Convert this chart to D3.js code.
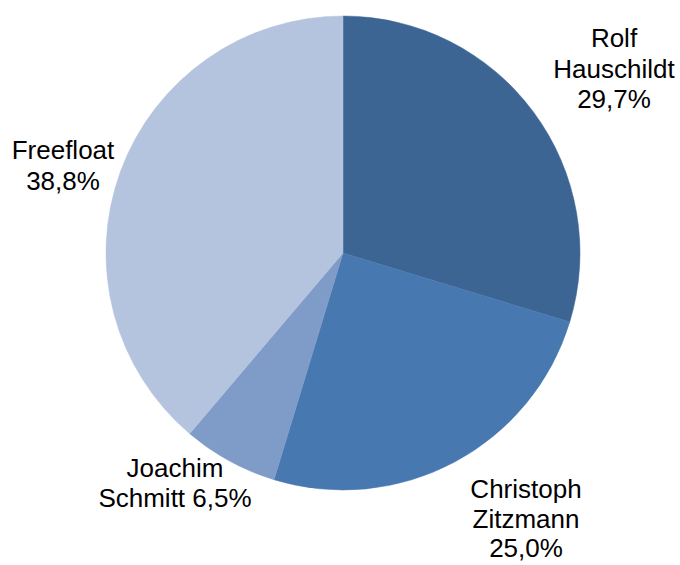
<!DOCTYPE html>
<html><head><meta charset="utf-8">
<script src="https://cdn.jsdelivr.net/npm/d3@7"></script>
<style>body{margin:0;background:#fff}svg{display:block}</style>
</head><body>
<svg id="c" width="680" height="565"></svg>
<script>
const names = ["Rolf Hauschildt", "Christoph Zitzmann", "Joachim Schmitt", "Freefloat"];
const values = [29.7, 25.0, 6.5, 38.8];
const labelLines = [["Rolf", "Hauschildt", "29,7%"], ["Christoph", "Zitzmann", "25,0%"], ["Joachim", "Schmitt 6,5%"], ["Freefloat", "38,8%"]];
const colors = ["#3D6594", "#4878B0", "#7F9CC8", "#B4C3DE"];
const labelPos = [[614, 40], [526, 491], [175, 470], [63, 152]];
const lineGap = [30.5, 29.5, 30, 30.5];

const svg = d3.select("#c");
const cx = 343, cy = 253, r = 237;
const pie = d3.pie().sort(null).value(d => d)(values);
const arc = d3.arc().innerRadius(0).outerRadius(r);
const g = svg.append("g").attr("transform", `translate(${cx},${cy})`);
g.selectAll("path").data(pie).join("path")
  .attr("d", arc).attr("fill", (d, i) => colors[i])
  .attr("stroke", (d, i) => colors[i]).attr("stroke-width", 0.5);

labelLines.forEach((lines, i) => {
  const t = svg.append("text")
    .attr("x", labelPos[i][0]).attr("y", labelPos[i][1])
    .attr("text-anchor", "middle")
    .attr("dominant-baseline", "middle")
    .attr("font-family", "'Liberation Sans', Arial, sans-serif")
    .attr("font-size", 26).attr("fill", "#000");
  lines.forEach((l, j) => {
    t.append("tspan").attr("x", labelPos[i][0]).attr("dy", j === 0 ? 0 : lineGap[i]).text(l);
  });
});
</script>
</body></html>
